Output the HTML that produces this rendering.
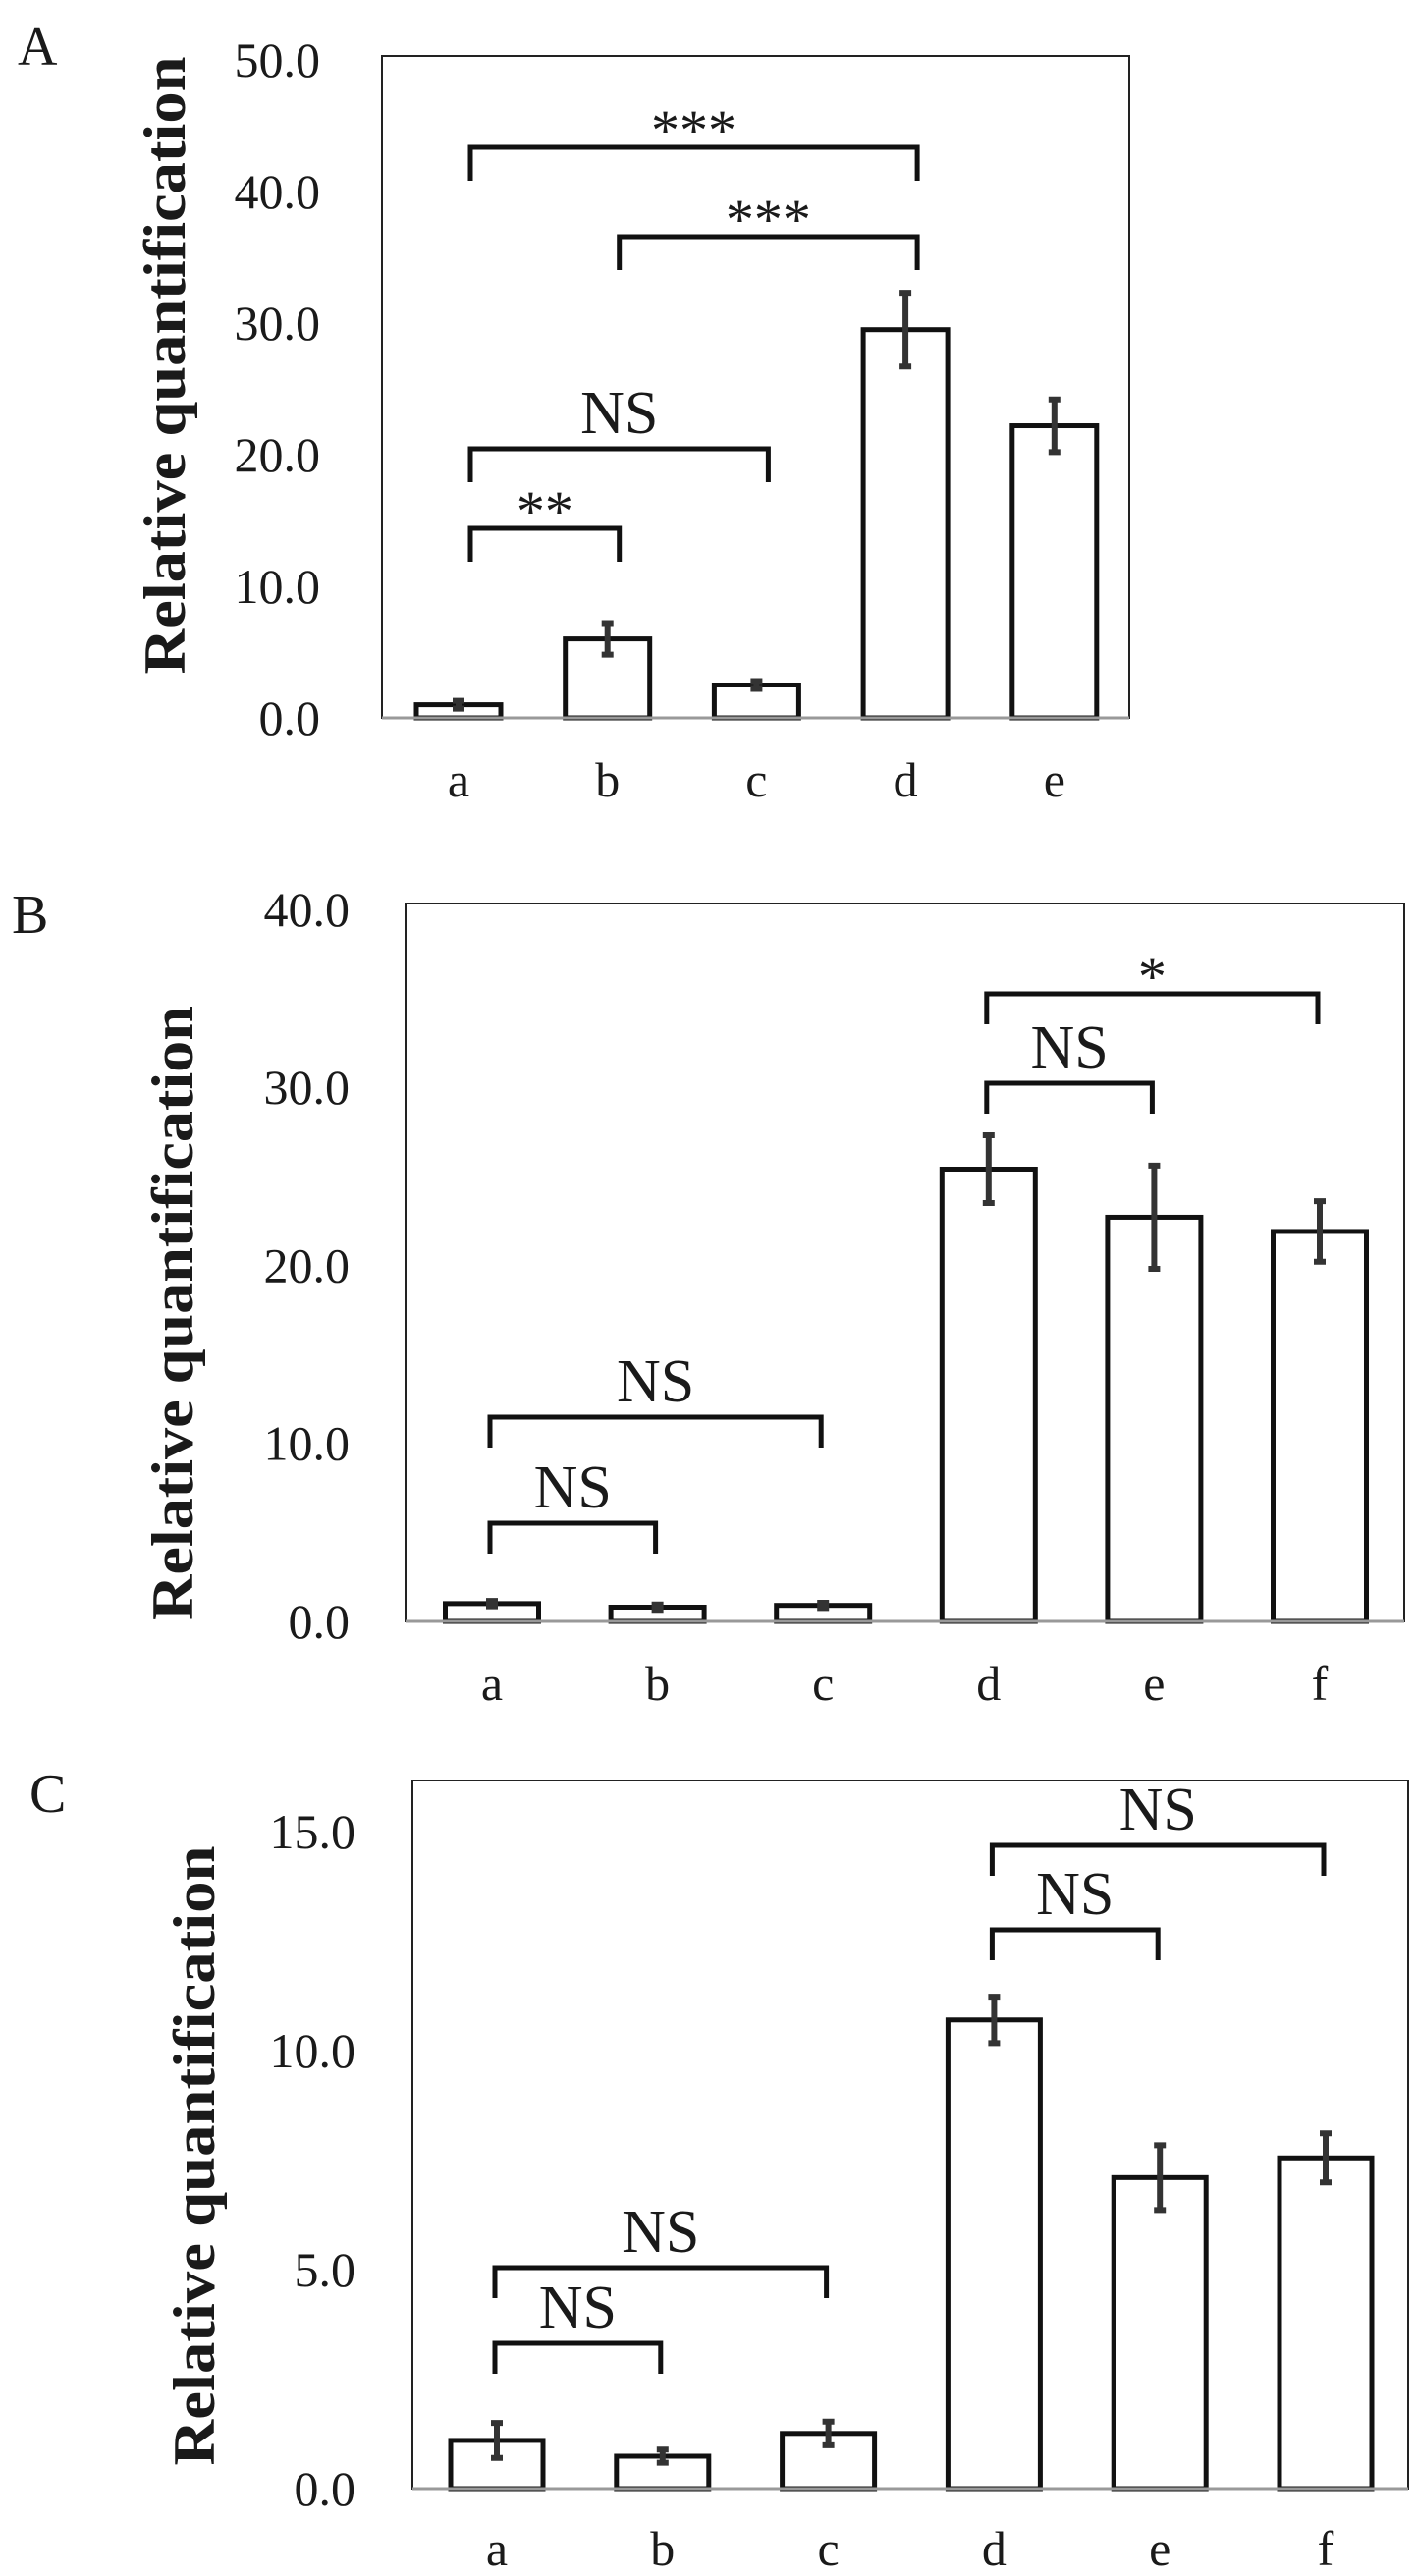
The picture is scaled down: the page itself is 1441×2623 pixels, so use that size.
<!DOCTYPE html>
<html><head><meta charset="utf-8"><style>
html,body{margin:0;padding:0;background:#fff}
svg{display:block}
text{font-family:"Liberation Serif",serif;fill:#1a1a1a}
</style></head><body>
<svg id="fig" width="1441" height="2623" viewBox="0 0 1441 2623" xmlns="http://www.w3.org/2000/svg"></svg>
<script>
// Panel A data
const catsA = ["a","b","c","d","e"];
const valsA = [1.0, 6.0, 2.5, 29.5, 22.2];
const errsA = [0.3, 1.2, 0.3, 2.8, 2.0];
const ticksA = [0, 10, 20, 30, 40, 50];
const sigA = [["a","d","***"],["b","d","***"],["a","c","NS"],["a","b","**"]];
// Panel B data
const catsB = ["a","b","c","d","e","f"];
const valsB = [1.0, 0.8, 0.9, 25.4, 22.7, 21.9];
const errsB = [0.15, 0.15, 0.15, 1.9, 2.9, 1.7];
const ticksB = [0, 10, 20, 30, 40];
const sigB = [["d","f","*"],["d","e","NS"],["a","c","NS"],["a","b","NS"]];
// Panel C data
const catsC = ["a","b","c","d","e","f"];
const valsC = [1.1, 0.74, 1.26, 10.7, 7.1, 7.55];
const errsC = [0.4, 0.15, 0.27, 0.53, 0.74, 0.56];
const ticksC = [0, 5, 10, 15];
const sigC = [["d","f","NS"],["d","e","NS"],["a","c","NS"],["a","b","NS"]];

const NS = "http://www.w3.org/2000/svg";
const svg = document.getElementById('fig');
function mk(tag, attrs, parent){ const e=document.createElementNS(NS,tag); for(const k in attrs) e.setAttribute(k,attrs[k]); (parent||svg).appendChild(e); return e; }

function panel(cfg){
  const g = mk('g',{});
  
  
  const y = v => cfg.y0 - (v - 0) * cfg.ppu;
  const x = i => cfg.x0 + i * cfg.step;
  const L = mk('text',{x:cfg.lx,y:cfg.ly,'font-size':56},g); L.textContent=cfg.id;
  
  
  const fr = mk('rect',{x:cfg.fl,y:cfg.ft,width:cfg.fr-cfg.fl,height:cfg.y0-cfg.ft,fill:'none',stroke:'#222','stroke-width':2},g);
  
  
  cfg.ticks.forEach(t=>{
    const tx = mk('text',{x:cfg.tx,y:y(t)+17,'font-size':50,'text-anchor':'end'},g);
    tx.textContent=t.toFixed(1);
    
    
  });
  const yt = mk('text',{x:0,y:0,'font-size':60,'font-weight':'bold','text-anchor':'middle',textLength:cfg.tl,lengthAdjust:'spacingAndGlyphs',transform:`translate(${cfg.ytx},${cfg.yty}) rotate(-90)`},g);
  yt.textContent='Relative quantification';
  
  
  cfg.vals.forEach((v,i)=>{
    const cx=x(i), w=cfg.bw;
    const b = mk('rect',{x:cx-w/2,y:y(v),width:w,height:cfg.y0-y(v),fill:'#fff',stroke:'#111','stroke-width':5},g);
    
    
    const e=cfg.errs[i];
    const eb = mk('path',{d:`M${cx} ${y(v+e)}V${y(v-e)}M${cx-6} ${y(v+e)}H${cx+6}M${cx-6} ${y(v-e)}H${cx+6}`,stroke:'#333','stroke-width':6,fill:'none'},g);
    
    
    const xl = mk('text',{x:cx,y:cfg.xly,'font-size':50,'text-anchor':'middle'},g);
    xl.textContent=cfg.cats[i];
    
    
  });
  const zl = mk('line',{x1:cfg.fl,x2:cfg.fr,y1:cfg.y0,y2:cfg.y0,stroke:'#999','stroke-width':3},g);
  
  
  cfg.sig.forEach((s,k)=>{
    const i1=cfg.cats.indexOf(s[0]), i2=cfg.cats.indexOf(s[1]);
    const by=cfg.bry[k], x1=x(i1)+cfg.boff, x2=x(i2)+cfg.boff;
    const p = mk('path',{d:`M${x1} ${by+cfg.bdrop}V${by}H${x2}V${by+cfg.bdrop}`,stroke:'#111','stroke-width':5,fill:'none'},g);
    
    
    const isStar = s[2].indexOf('*')>=0;
    const t = mk('text',{x:(x1+x2)/2,y:isStar?by+2:by-16,'font-size':isStar?58:62,'text-anchor':'middle'},g);
    t.textContent=s[2];
    
    
  });
}

panel({id:'A',cats:catsA,vals:valsA,errs:errsA,ticks:ticksA,sig:sigA,
  y0:731,ppu:13.4,x0:467,step:151.7,bw:86,fl:389,fr:1150,ft:57,tx:326,
  lx:18,ly:66,ytx:188,yty:372,tl:629,xly:811,bry:[150,241,457,538],bdrop:34,boff:12});
panel({id:'B',cats:catsB,vals:valsB,errs:errsB,ticks:ticksB,sig:sigB,
  y0:1651,ppu:18.13,x0:501,step:168.6,bw:95,fl:413,fr:1430,ft:920,tx:356,
  lx:12,ly:950,ytx:196,yty:1337,tl:626,xly:1731,bry:[1012,1103,1443,1551],bdrop:31,boff:-2});
panel({id:'C',cats:catsC,vals:valsC,errs:errsC,ticks:ticksC,sig:sigC,
  y0:2534,ppu:44.6,x0:506,step:168.8,bw:94,fl:420,fr:1434,ft:1813,tx:362,
  lx:30,ly:1845,ytx:218,yty:2195,tl:631,xly:2612,bry:[1879,1965,2309,2386],bdrop:31,boff:-2});
</script>
</body></html>
